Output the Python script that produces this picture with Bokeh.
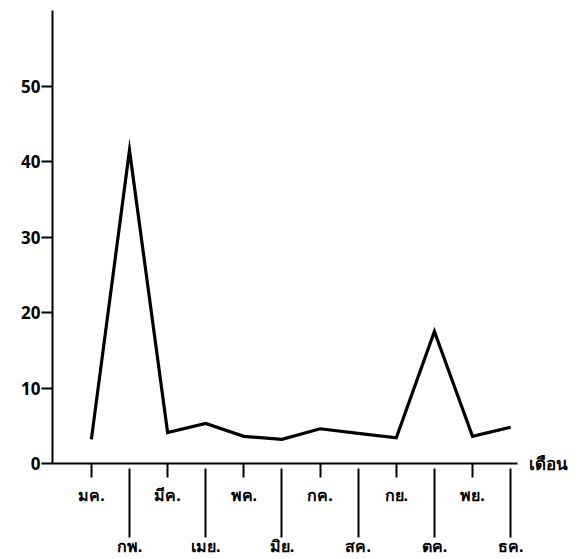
from bokeh.plotting import figure
from bokeh.models import LinearAxis, FixedTicker, Range1d
from bokeh.embed import file_html
from bokeh.resources import INLINE

months = ["มค.", "กพ.", "มีค.", "เมย.", "พค.", "มิย.", "กค.", "สค.", "กย.", "ตค.", "พย.", "ธค."]
month_pos = list(range(1, 13))
values = [3.2, 41.5, 4.1, 5.3, 3.6, 3.2, 4.6, 4.0, 3.4, 17.5, 3.6, 4.8]
y_ticks = [0, 10, 20, 30, 40, 50]
x_title = "เดือน"

FONT = "Noto Sans"

p = figure(width=584, height=559, output_backend="svg", toolbar_location=None,
           x_range=Range1d(-0.02, 12.18), y_range=Range1d(0, 60),
           min_border_left=52, min_border_right=67, min_border_top=10, min_border_bottom=96,
           x_axis_type=None)
p.outline_line_color = None
p.xgrid.visible = False
p.ygrid.visible = False

p.line(month_pos, values, line_color="black", line_width=3.2, line_join="miter")

# y axis
ya = p.yaxis[0]
ya.ticker = FixedTicker(ticks=y_ticks)
ya.axis_line_width = 2
ya.axis_line_color = "black"
ya.major_tick_in = 0
ya.major_tick_out = 11
ya.major_tick_line_width = 2
ya.minor_tick_line_color = None
ya.major_label_standoff = 1
ya.major_label_text_font = FONT
ya.major_label_text_font_style = "bold"
ya.major_label_text_font_size = "17px"
ya.major_label_text_color = "black"

odd = [m for m in month_pos if m % 2 == 1]
even = [m for m in month_pos if m % 2 == 0]

xa1 = LinearAxis(ticker=FixedTicker(ticks=odd),
                 major_label_overrides={m: months[m - 1] for m in odd})
xa1.axis_line_width = 2
xa1.major_tick_in = 0
xa1.major_tick_out = 14
xa1.major_tick_line_width = 2
xa1.minor_tick_line_color = None
xa1.major_label_standoff = 6
xa1.major_label_text_font = FONT
xa1.major_label_text_font_style = "bold"
xa1.major_label_text_font_size = "16px"
xa1.major_label_text_color = "black"
p.add_layout(xa1, "below")

xa2 = LinearAxis(ticker=FixedTicker(ticks=even),
                 major_label_overrides={m: months[m - 1] for m in even})
xa2.axis_line_color = None
xa2.major_tick_in = 40
xa2.major_tick_out = 29
xa2.major_tick_line_width = 2
xa2.minor_tick_line_color = None
xa2.major_label_standoff = -3
xa2.major_label_text_font = FONT
xa2.major_label_text_font_style = "bold"
xa2.major_label_text_font_size = "16px"
xa2.major_label_text_color = "black"
p.add_layout(xa2, "below")

# "เดือน" label at the right end of the x axis, level with y = 0
ra = LinearAxis(ticker=FixedTicker(ticks=[0]), major_label_overrides={0: x_title})
ra.axis_line_color = None
ra.major_tick_line_color = None
ra.minor_tick_line_color = None
ra.major_label_standoff = 5
ra.major_label_text_font = FONT
ra.major_label_text_font_style = "bold"
ra.major_label_text_font_size = "17px"
ra.major_label_text_color = "black"
p.add_layout(ra, "right")

open("out.html", "w").write(file_html(p, INLINE))
